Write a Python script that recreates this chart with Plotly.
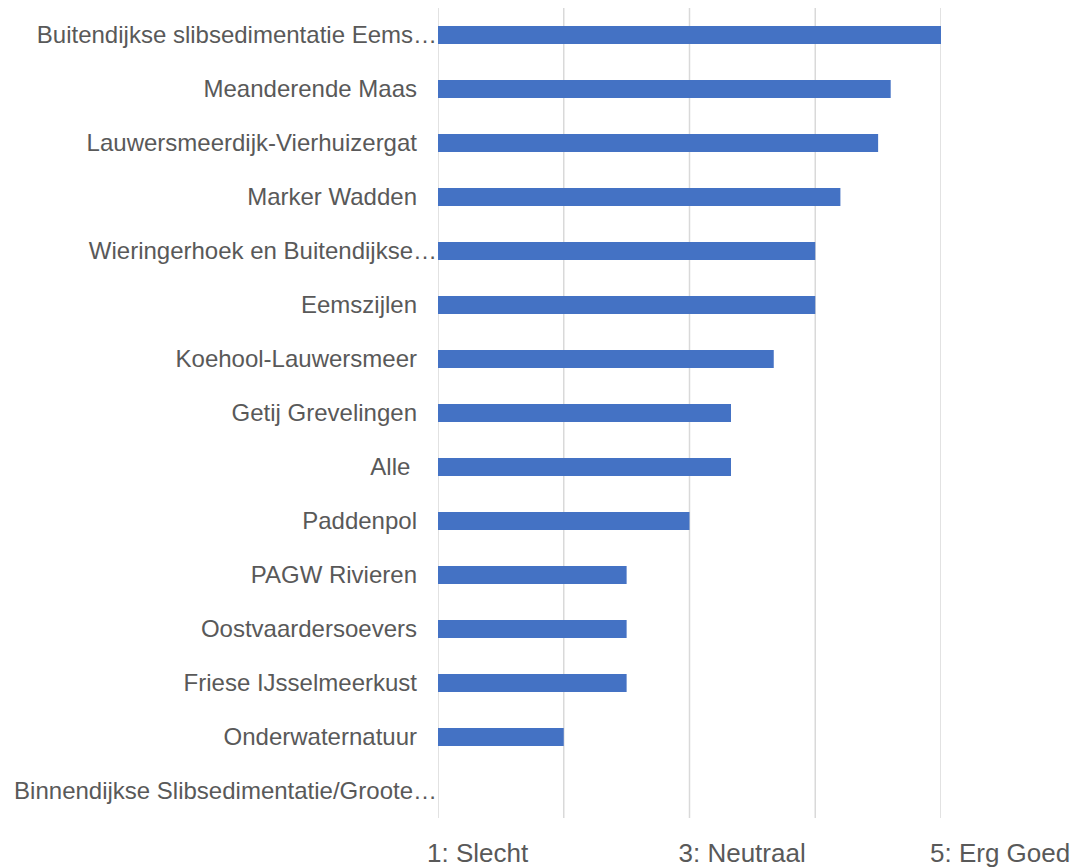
import plotly.graph_objects as go

categories = [
    "Buitendijkse slibsedimentatie Eems…",
    "Meanderende Maas",
    "Lauwersmeerdijk-Vierhuizergat",
    "Marker Wadden",
    "Wieringerhoek en Buitendijkse…",
    "Eemszijlen",
    "Koehool-Lauwersmeer",
    "Getij Grevelingen",
    "Alle ",
    "Paddenpol",
    "PAGW Rivieren",
    "Oostvaardersoevers",
    "Friese IJsselmeerkust",
    "Onderwaternatuur",
    "Binnendijkse Slibsedimentatie/Groote…",
]
scores = [5.0, 4.6, 4.5, 4.2, 4.0, 4.0, 3.67, 3.33, 3.33, 3.0, 2.5, 2.5, 2.5, 2.0, 1.0]

tick_vals = [1, 3, 5]
tick_text = ["1: Slecht", "3: Neutraal", "5: Erg Goed"]

# truncated labels (ending in an ellipsis) run up to the axis; others keep a gap
y_ticktext = [c if c.endswith("…") else c.replace(" ", "\u00a0") + "\u00a0" * 3 for c in categories]

fig = go.Figure(
    go.Bar(
        y=categories,
        x=scores,
        orientation="h",
        width=0.333,
        marker=dict(color="#4472C4", line=dict(width=0)),
    )
)

fig.update_layout(
    width=1081,
    height=868,
    margin=dict(l=430, r=148, t=0, b=58),
    plot_bgcolor="white",
    paper_bgcolor="white",
    showlegend=False,
    font=dict(family="Liberation Sans, Arial, sans-serif", color="#595959"),
)

fig.update_xaxes(
    range=[1, 5],
    tickmode="array",
    tickvals=tick_vals,
    ticktext=tick_text,
    showgrid=False,
    zeroline=False,
    showline=False,
    automargin=False,
    tickfont=dict(size=26, color="#595959"),
    ticklabelposition="outside right",
    ticklabelshift=-11,
    ticklabelstandoff=17,
    ticks="",
)
# gridlines at every unit
for g in [1, 2, 3, 4, 5]:
    fig.add_shape(
        type="line", xref="x", yref="paper", x0=g, x1=g, y0=0, y1=1,
        line=dict(color="#d9d9d9", width=1.5), layer="below",
    )

fig.update_yaxes(
    categoryorder="array",
    categoryarray=categories,
    tickmode="array",
    tickvals=categories,
    ticktext=y_ticktext,
    autorange="reversed",
    showgrid=False,
    zeroline=False,
    showline=False,
    automargin=False,
    tickfont=dict(size=24, color="#595959"),
    ticks="",
    ticklabelstandoff=0,
)

fig.write_html("out.html")
